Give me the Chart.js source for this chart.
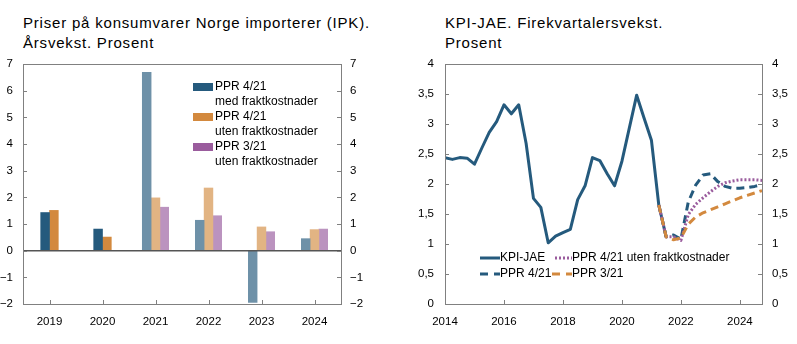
<!DOCTYPE html>
<html>
<head>
<meta charset="utf-8">
<script src="https://cdn.jsdelivr.net/npm/chart.js@4/dist/chart.umd.min.js"></script>
<style>
body { margin: 0; background: #fff; width: 797px; height: 344px; overflow: hidden; position: relative; font-family: "Liberation Sans", Arial, sans-serif; }
.title { position: absolute; top: 13px; font-size: 15px; line-height: 20px; letter-spacing: 0.8px; color: #000; white-space: nowrap; }
.box { position: absolute; top: 0; height: 344px; }
</style>
</head>
<body>
<div class="title" style="left:23px">Priser på konsumvarer Norge importerer (IPK).<br>Årsvekst. Prosent</div>
<div class="title" style="left:445px">KPI-JAE. Firekvartalersvekst.<br>Prosent</div>
<div class="box" style="left:0;width:398px"><canvas id="ipk" width="398" height="344"></canvas></div>
<div class="box" style="left:398px;width:399px"><canvas id="kpi" width="399" height="344"></canvas></div>
<script>
/* venstre: IPK, aarsvekst */
var years = ['2019', '2020', '2021', '2022', '2023', '2024'];
var medFrakt421 = [1.43, 0.81, 6.69, 1.14, -1.94, 0.45];
var utenFrakt421 = [1.51, 0.51, 1.98, 2.35, 0.89, 0.79];
var utenFrakt321 = [null, null, 1.63, 1.31, 0.71, 0.81];
var firstProjection = 2; // 2021 og utover er anslag (lysere farger)

/* hoyre: KPI-JAE, firekvartalersvekst, kvartalsvis fra 2014K1 */
var kpiStart = 2014;
var kpiJae = [2.44, 2.41, 2.44, 2.43, 2.33, 2.6, 2.86, 3.04, 3.32, 3.17, 3.32, 2.68,
              1.76, 1.61, 1.02, 1.13, 1.19, 1.245, 1.74, 1.97, 2.44, 2.39, 2.17, 1.97,
              2.38, 2.93, 3.48, 3.1, 2.73, 1.65, 1.12];
/* anslag fra 2021K2 */
var fcStart = 2021.25;
var ppr421 = [1.65, 1.12, 1.15, 1.08, 1.7, 1.98, 2.15, 2.17, 2.04, 1.96, 1.93, 1.93, 1.94, 1.96, 1.99];
var ppr421uten = [1.65, 1.12, 1.12, 1.06, 1.49, 1.66, 1.77, 1.87, 1.96, 2.02, 2.05, 2.07, 2.07, 2.07, 2.06];
var ppr321 = [1.65, 1.12, 1.07, 1.1, 1.33, 1.45, 1.52, 1.57, 1.62, 1.67, 1.72, 1.77, 1.81, 1.85, 1.89];
var xTickYears = [2014, 2016, 2018, 2020, 2022, 2024];

var blue = '#255a7d', blueLight = '#6e91a8';
var orange = '#d3893e', orangeLight = '#e2b483';
var purple = '#9a5c9d', purpleLight = '#bb93bf';
var axisGrey = '#808080';
var tickFont = { family: 'Liberation Sans', size: 11.5 };

function toXY(start, arr) {
  return arr.map(function(v, i) { return { x: start + i / 4, y: v }; });
}
function shade(dark, light) {
  return years.map(function(y, i) { return i < firstProjection ? dark : light; });
}

// ramme og innoverrettede tickmerker
var frame = {
  id: 'frame',
  afterDraw: function(chart) {
    var a = chart.chartArea, c = chart.ctx;
    c.save();
    c.strokeStyle = axisGrey;
    c.lineWidth = 1;
    c.strokeRect(Math.round(a.left) + 0.5, Math.round(a.top) + 0.5, Math.round(a.right - a.left), Math.round(a.bottom - a.top));
    var sy = chart.scales.y;
    sy.ticks.forEach(function(t) {
      var p = Math.round(sy.getPixelForValue(t.value)) + 0.5;
      c.beginPath();
      c.moveTo(a.left, p); c.lineTo(a.left + 4, p);
      c.moveTo(a.right - 4, p); c.lineTo(a.right, p);
      c.stroke();
    });
    var sx = chart.scales.x;
    sx.ticks.forEach(function(t, i) {
      var p = Math.round(chart.config.type === 'bar' ? sx.getPixelForTick(i) : sx.getPixelForValue(t.value)) + 0.5;
      c.beginPath();
      c.moveTo(p, a.bottom); c.lineTo(p, a.bottom - 4);
      c.stroke();
    });
    c.restore();
  }
};

var zeroLine = {
  id: 'zeroLine',
  afterDatasetsDraw: function(chart) {
    var a = chart.chartArea, c = chart.ctx;
    var p = chart.scales.y.getPixelForValue(0);
    c.save();
    c.strokeStyle = '#555';
    c.lineWidth = 1.5;
    c.beginPath();
    c.moveTo(a.left, p); c.lineTo(a.right, p);
    c.stroke();
    c.restore();
  }
};

var barLegend = {
  id: 'barLegend',
  afterDraw: function(chart) {
    var c = chart.ctx;
    var items = [
      { color: blue, lines: ['PPR 4/21', 'med fraktkostnader'] },
      { color: orange, lines: ['PPR 4/21', 'uten fraktkostnader'] },
      { color: purple, lines: ['PPR 3/21', 'uten fraktkostnader'] }
    ];
    c.save();
    c.font = '12px "Liberation Sans"';
    c.textBaseline = 'middle';
    c.fillStyle = '#000';
    items.forEach(function(it, i) {
      var y = 87 + i * 30;
      c.fillStyle = it.color;
      c.fillRect(193, y - 4, 20, 8);
      c.fillStyle = '#000';
      c.fillText(it.lines[0], 215, y);
      c.fillText(it.lines[1], 215, y + 14.5);
    });
    c.restore();
  }
};

var lineLegend = {
  id: 'lineLegend',
  afterDraw: function(chart) {
    var c = chart.ctx;
    var items = [
      { color: blue, dash: [], x0: 82, x1: 102, y: 258, text: 'KPI-JAE' },
      { color: purple, dash: [2, 2], x0: 157, x1: 174, y: 258, text: 'PPR 4/21 uten fraktkostnader' },
      { color: blue, dash: [8, 6], x0: 82, x1: 102, y: 274, text: 'PPR 4/21' },
      { color: orange, dash: [8, 6], x0: 154, x1: 174, y: 274, text: 'PPR 3/21' }
    ];
    c.save();
    c.font = '12px "Liberation Sans"';
    c.textBaseline = 'middle';
    items.forEach(function(it) {
      c.strokeStyle = it.color;
      c.lineWidth = 3;
      c.setLineDash(it.dash);
      c.beginPath();
      c.moveTo(it.x0, it.y); c.lineTo(it.x1, it.y);
      c.stroke();
      c.setLineDash([]);
      c.fillStyle = '#000';
      c.fillText(it.text, it.x1, it.y);
    });
    c.restore();
  }
};

function yAxis(pos, min, max, step, width, pad, fmt) {
  return {
    position: pos, min: min, max: max,
    grid: { display: false, drawTicks: false },
    border: { display: false },
    ticks: { stepSize: step, padding: pad, color: '#000', font: tickFont, callback: fmt },
    afterFit: function(s) { s.width = width; }
  };
}
function minusFmt(v) { return v < 0 ? '\u2212' + Math.abs(v) : String(v); }
function commaFmt(v) { return String(v).replace('.', ','); }

new Chart(document.getElementById('ipk'), {
  type: 'bar',
  data: {
    labels: years,
    datasets: [
      { label: 'PPR 4/21 med fraktkostnader', data: medFrakt421, backgroundColor: shade(blue, blueLight) },
      { label: 'PPR 4/21 uten fraktkostnader', data: utenFrakt421, backgroundColor: shade(orange, orangeLight) },
      { label: 'PPR 3/21 uten fraktkostnader', data: utenFrakt321, backgroundColor: shade(purple, purpleLight) }
    ]
  },
  options: {
    responsive: false,
    animation: false,
    layout: { padding: { top: 64, left: 0, right: 0, bottom: 0 } },
    datasets: { bar: { barThickness: 8.8, skipNull: true, borderWidth: 0 } },
    plugins: { legend: { display: false }, tooltip: { enabled: false } },
    scales: {
      x: {
        grid: { display: false, drawTicks: false },
        border: { display: false },
        ticks: { padding: 11, color: '#000', font: tickFont },
        afterFit: function(s) { s.height = 40; }
      },
      y: yAxis('left', -2, 7, 1, 23, 10, minusFmt),
      y2: yAxis('right', -2, 7, 1, 57, 9, minusFmt)
    }
  },
  plugins: [zeroLine, frame, barLegend]
});

new Chart(document.getElementById('kpi'), {
  type: 'line',
  data: {
    datasets: [
      { label: 'KPI-JAE', data: toXY(kpiStart, kpiJae), borderColor: blue, borderWidth: 3, order: 4 },
      { label: 'PPR 4/21', data: toXY(fcStart, ppr421), borderColor: blue, borderWidth: 3, borderDash: [8, 5], order: 3 },
      { label: 'PPR 4/21 uten fraktkostnader', data: toXY(fcStart, ppr421uten), borderColor: purple, borderWidth: 3, borderDash: [2, 2], order: 2 },
      { label: 'PPR 3/21', data: toXY(fcStart, ppr321), borderColor: orange, borderWidth: 3, borderDash: [8, 5], order: 1 }
    ]
  },
  options: {
    responsive: false,
    animation: false,
    layout: { padding: { top: 64, left: 0, right: 0, bottom: 0 } },
    elements: { point: { radius: 0 }, line: { tension: 0, borderJoinStyle: 'round' } },
    plugins: { legend: { display: false }, tooltip: { enabled: false } },
    scales: {
      x: {
        type: 'linear', min: 2014, max: 2024.75,
        grid: { display: false, drawTicks: false },
        border: { display: false },
        ticks: { padding: 11, color: '#000', font: tickFont, callback: function(v) { return String(v); } },
        afterBuildTicks: function(s) { s.ticks = xTickYears.map(function(v) { return { value: v }; }); },
        afterFit: function(s) { s.height = 40; }
      },
      y: yAxis('left', 0, 4, 0.5, 47, 11, commaFmt),
      y2: yAxis('right', 0, 4, 0.5, 35, 10, commaFmt)
    }
  },
  plugins: [frame, lineLegend]
});
</script>
</body>
</html>
